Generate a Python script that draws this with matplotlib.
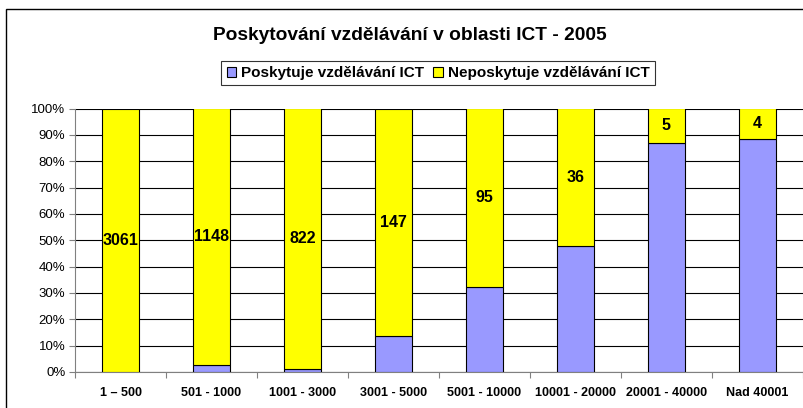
import matplotlib.pyplot as plt
import numpy as np
from matplotlib.patches import Rectangle

plt.rcParams['font.family'] = ['Liberation Sans', 'DejaVu Sans']

categories = ['1 – 500', '501 - 1000', '1001 - 3000', '3001 - 5000',
              '5001 - 10000', '10001 - 20000', '20001 - 40000', 'Nad 40001']
# share of municipalities providing ICT education (%)
provides_pct = [0.0, 2.6, 1.1, 13.5, 32.1, 47.9, 86.9, 88.6]
# number of municipalities not providing (bar labels)
not_provides_count = [3061, 1148, 822, 147, 95, 36, 5, 4]

blue = '#9999FF'
yellow = '#FFFF00'

provides = np.array(provides_pct)
rest = 100 - provides
x = np.arange(len(categories))

fig = plt.figure(figsize=(8.04, 4.08), dpi=100)
# outer chart border (only left and top edges visible)
fig.patches.append(Rectangle((0.007, -0.2), 1.2, 1.177, transform=fig.transFigure,
                             fill=False, edgecolor='black', linewidth=1.0))
ax = fig.add_axes([75 / 804, 1 - 372 / 408, (803 - 75) / 804, (372 - 108.5) / 408])

ax.bar(x, provides, width=0.4, color=blue, edgecolor='black', linewidth=0.8,
       label='Poskytuje vzdělávání ICT', zorder=3)
ax.bar(x, rest, width=0.4, bottom=provides, color=yellow, edgecolor='black',
       linewidth=0.8, label='Neposkytuje vzdělávání ICT', zorder=3)

for i in range(len(categories)):
    ax.text(x[i], provides[i] + rest[i] / 2, str(not_provides_count[i]),
            ha='center', va='center', fontsize=11.5, fontweight='bold', zorder=4)

ax.set_xlim(-0.5, len(categories) - 0.5)
ax.set_ylim(0, 100)
ax.set_yticks(np.arange(0, 101, 10))
ax.set_yticklabels([f'{v}%' for v in range(0, 101, 10)], fontsize=9.5)
ax.set_xticks(np.arange(-0.5, len(categories), 1), minor=False)
ax.set_xticklabels([])
ax.set_xticks(x, minor=True)
ax.set_xticklabels(categories, minor=True, fontsize=9, fontweight='bold')
ax.tick_params(axis='x', which='minor', length=0, pad=11)
ax.tick_params(axis='x', which='major', length=4, color='#808080')
ax.tick_params(axis='y', length=4, color='#808080', pad=3)
ax.yaxis.grid(True, color='black', linewidth=0.8, zorder=0)
for side in ['top', 'right']:
    ax.spines[side].set_visible(False)
ax.spines['left'].set_color('#808080')
ax.spines['bottom'].set_color('#808080')

fig.text(410 / 804, 1 - 35 / 408, 'Poskytování vzdělávání v oblasti ICT - 2005',
         ha='center', va='center', fontsize=13.8, fontweight='bold')
leg = fig.legend(loc='center', bbox_to_anchor=(438 / 804, 1 - 73 / 408), ncol=2,
                 frameon=True, fancybox=False, edgecolor='black',
                 handlelength=0.65, handleheight=0.65, handletextpad=0.3,
                 columnspacing=0.6, borderpad=0.35, prop={'weight': 'bold', 'size': 11})
leg.get_frame().set_linewidth(0.8)

fig.savefig('out.png', dpi=100)
